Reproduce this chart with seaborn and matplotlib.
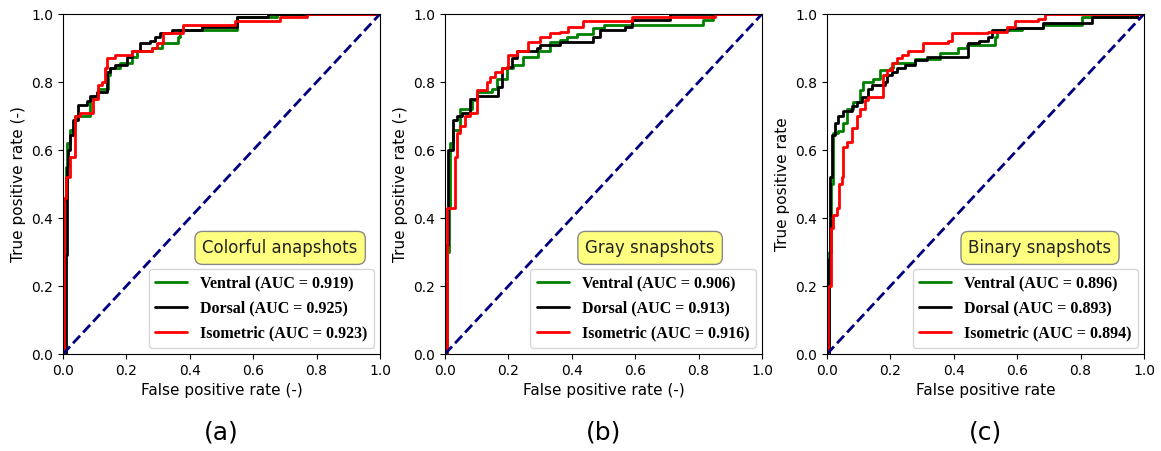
import numpy as np
import pandas as pd
import seaborn as sns
import matplotlib.pyplot as plt

# ROC vertices (fpr, tpr after each rise)
a_ventral_fpr = [0, 0.004, 0.008, 0.012, 0.022, 0.038, 0.085, 0.096, 0.111, 0.143, 0.148, 0.18, 0.217, 0.233, 0.28, 0.311, 0.364, 0.369, 0.548, 0.674, 1.0]
a_ventral_tpr = [0, 0.45, 0.55, 0.62, 0.66, 0.70, 0.75, 0.76, 0.78, 0.82, 0.84, 0.857, 0.874, 0.89, 0.90, 0.914, 0.933, 0.953, 0.99, 1.0, 1.0]
a_dorsal_fpr = [0, 0.009, 0.012, 0.017, 0.022, 0.033, 0.048, 0.075, 0.085, 0.106, 0.138, 0.148, 0.164, 0.201, 0.217, 0.243, 0.275, 0.29, 0.306, 0.343, 0.437, 0.548, 0.648, 1.0]
a_dorsal_tpr = [0, 0.29, 0.55, 0.60, 0.644, 0.688, 0.732, 0.745, 0.76, 0.771, 0.83, 0.84, 0.85, 0.874, 0.89, 0.914, 0.92, 0.933, 0.943, 0.953, 0.963, 0.99, 1.0, 1.0]
a_iso_fpr = [0, 0.002, 0.01, 0.022, 0.038, 0.054, 0.096, 0.111, 0.122, 0.132, 0.138, 0.164, 0.217, 0.28, 0.296, 0.316, 0.38, 0.543, 0.685, 0.769, 1.0]
a_iso_tpr = [0, 0.46, 0.52, 0.58, 0.70, 0.71, 0.75, 0.79, 0.80, 0.84, 0.87, 0.88, 0.89, 0.90, 0.915, 0.943, 0.968, 0.978, 0.99, 1.0, 1.0]

b_ventral_fpr = [0, 0.006, 0.012, 0.016, 0.026, 0.047, 0.084, 0.1, 0.147, 0.163, 0.195, 0.215, 0.247, 0.294, 0.331, 0.363, 0.384, 0.415, 0.468, 0.5, 0.815, 0.847, 1.0]
b_ventral_tpr = [0, 0.30, 0.43, 0.62, 0.66, 0.72, 0.747, 0.77, 0.778, 0.81, 0.84, 0.85, 0.874, 0.89, 0.919, 0.925, 0.933, 0.94, 0.958, 0.968, 0.982, 1.0, 1.0]
b_dorsal_fpr = [0, 0.004, 0.008, 0.026, 0.037, 0.053, 0.079, 0.1, 0.168, 0.179, 0.195, 0.21, 0.226, 0.289, 0.3, 0.363, 0.468, 0.489, 0.568, 0.589, 0.71, 1.0]
b_dorsal_tpr = [0, 0.32, 0.60, 0.688, 0.70, 0.71, 0.75, 0.76, 0.785, 0.84, 0.845, 0.87, 0.89, 0.90, 0.91, 0.919, 0.933, 0.953, 0.963, 0.982, 1.0, 1.0]
b_iso_fpr = [0, 0.005, 0.032, 0.037, 0.047, 0.063, 0.079, 0.1, 0.131, 0.142, 0.158, 0.179, 0.2, 0.226, 0.263, 0.3, 0.331, 0.363, 0.389, 0.436, 0.589, 0.852, 1.0]
b_iso_tpr = [0, 0.43, 0.58, 0.649, 0.67, 0.70, 0.71, 0.776, 0.80, 0.815, 0.83, 0.84, 0.879, 0.89, 0.919, 0.933, 0.943, 0.948, 0.963, 0.978, 0.99, 1.0, 1.0]

c_ventral_fpr = [0, 0.006, 0.012, 0.02, 0.036, 0.052, 0.062, 0.083, 0.104, 0.115, 0.146, 0.167, 0.199, 0.209, 0.278, 0.356, 0.414, 0.441, 0.53, 0.535, 0.614, 0.682, 0.803, 0.977, 1.0]
c_ventral_tpr = [0, 0.30, 0.50, 0.65, 0.655, 0.68, 0.72, 0.742, 0.777, 0.80, 0.81, 0.835, 0.84, 0.857, 0.868, 0.884, 0.90, 0.91, 0.933, 0.953, 0.958, 0.968, 0.99, 1.0, 1.0]
c_dorsal_fpr = [0, 0.006, 0.01, 0.015, 0.025, 0.036, 0.052, 0.078, 0.094, 0.109, 0.13, 0.141, 0.183, 0.188, 0.204, 0.22, 0.246, 0.278, 0.314, 0.446, 0.478, 0.509, 0.52, 0.572, 0.682, 0.835, 0.977, 1.0]
c_dorsal_tpr = [0, 0.28, 0.52, 0.644, 0.68, 0.70, 0.715, 0.728, 0.742, 0.757, 0.78, 0.79, 0.80, 0.82, 0.83, 0.84, 0.85, 0.864, 0.874, 0.914, 0.92, 0.933, 0.953, 0.958, 0.975, 0.99, 1.0, 1.0]
c_iso_fpr = [0, 0.004, 0.013, 0.02, 0.03, 0.038, 0.046, 0.052, 0.062, 0.078, 0.094, 0.104, 0.12, 0.13, 0.178, 0.188, 0.204, 0.22, 0.236, 0.257, 0.304, 0.383, 0.393, 0.509, 0.567, 0.593, 0.667, 0.688, 1.0]
c_iso_tpr = [0, 0.20, 0.37, 0.41, 0.43, 0.50, 0.52, 0.61, 0.625, 0.664, 0.70, 0.72, 0.747, 0.755, 0.82, 0.835, 0.857, 0.871, 0.88, 0.89, 0.914, 0.92, 0.943, 0.948, 0.963, 0.978, 0.985, 1.0, 1.0]

views = ['Ventral', 'Dorsal', 'Isometric']
colors = ['green', 'black', 'red']
auc = [[0.919, 0.925, 0.923], [0.906, 0.913, 0.916], [0.896, 0.893, 0.894]]
box_titles = ['Colorful anapshots', 'Gray snapshots', 'Binary snapshots']
panel_tags = ['(a)', '(b)', '(c)']
xlabels = ['False positive rate (-)', 'False positive rate (-)', 'False positive rate']
ylabels = ['True positive rate (-)', 'True positive rate (-)', 'True positive rate']
box_x = [0.685, 0.647, 0.672]

curves = [
    [(a_ventral_fpr, a_ventral_tpr), (a_dorsal_fpr, a_dorsal_tpr), (a_iso_fpr, a_iso_tpr)],
    [(b_ventral_fpr, b_ventral_tpr), (b_dorsal_fpr, b_dorsal_tpr), (b_iso_fpr, b_iso_tpr)],
    [(c_ventral_fpr, c_ventral_tpr), (c_dorsal_fpr, c_dorsal_tpr), (c_iso_fpr, c_iso_tpr)],
]

sns.set_style('ticks')
plt.rcParams['font.family'] = ['DejaVu Sans']
plt.rcParams['text.color'] = 'black'
plt.rcParams['axes.labelcolor'] = 'black'
plt.rcParams['xtick.color'] = 'black'
plt.rcParams['ytick.color'] = 'black'

fig = plt.figure(figsize=(11.61, 4.51), dpi=100)
lefts = [63 / 1161, 445 / 1161, 827 / 1161]

for i in range(3):
    ax = fig.add_axes([lefts[i], 97 / 451, 317 / 1161, 340 / 451])
    for j in range(3):
        fpr, tpr = curves[i][j]
        df = pd.DataFrame({'fpr': fpr, 'tpr': tpr})
        sns.lineplot(data=df, x='fpr', y='tpr', ax=ax, color=colors[j], lw=2,
                     sort=False, estimator=None, drawstyle='steps-post',
                     label='%s (AUC = %.3f)' % (views[j], auc[i][j]))
    ax.plot([0, 1], [0, 1], color='navy', lw=2, ls='--')
    ax.set_xlim(0, 1)
    ax.set_ylim(0, 1)
    ax.set_xticks(np.arange(0, 1.01, 0.2))
    ax.set_yticks(np.arange(0, 1.01, 0.2))
    ax.tick_params(labelsize=10)
    ax.set_xlabel(xlabels[i], fontsize=11)
    ax.set_ylabel(ylabels[i], fontsize=11)
    for s in ax.spines.values():
        s.set_color('black')
    leg = ax.legend(loc='lower right', prop={'family': 'Liberation Serif', 'weight': 'bold', 'size': 11.5},
                    handlelength=2.0, labelspacing=0.55, borderaxespad=0.4)
    leg.get_frame().set_edgecolor('#cccccc')
    ax.text(box_x[i], 0.312, box_titles[i], ha='center', va='center', fontsize=12,
            color='#222222',
            bbox=dict(boxstyle='round,pad=0.45', facecolor='#ffff80', edgecolor='#888888'))
    fig.text(lefts[i] + 317 / 1161 / 2, 0.04, panel_tags[i], ha='center', va='center', fontsize=18)

plt.savefig('out.png', dpi=100)
